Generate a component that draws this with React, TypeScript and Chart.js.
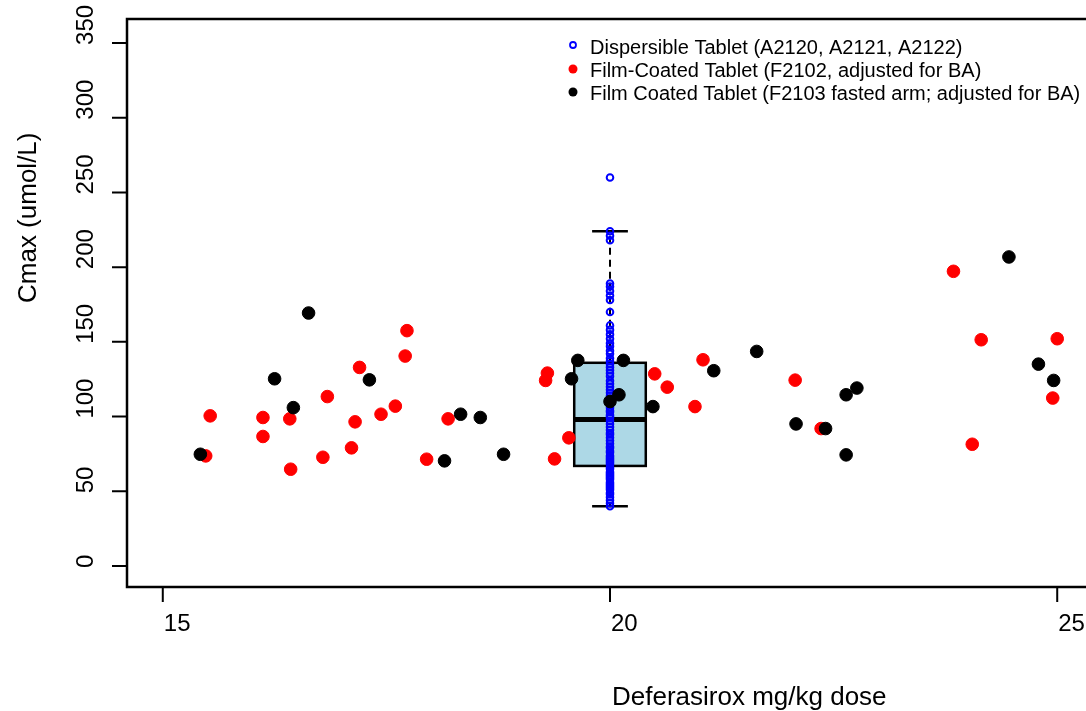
import React, { useEffect, useRef } from "react";
import { Chart, registerables } from "chart.js";

Chart.register(...registerables);

// ---------- data ----------
const seriesLabels = [
  "Dispersible Tablet (A2120, A2121, A2122)",
  "Film-Coated Tablet (F2102, adjusted for BA)",
  "Film Coated Tablet (F2103 fasted arm; adjusted for BA)",
];

const dispersibleDose = 20;
const dispersibleCmax = [
  260, 224, 221, 218, 189, 187, 184, 181, 178, 170, 161, 158, 155, 152, 149, 147, 144, 142, 139, 137,
  135, 133, 131, 129, 127, 124, 122, 120, 118, 116, 114, 112, 110, 108, 106, 104, 103, 101, 100, 99,
  97, 95, 93, 91, 89, 88, 86, 84, 82, 80, 79, 77, 76, 74, 73, 72, 71, 70, 69, 68,
  66, 65, 63, 62, 61, 60, 59, 58, 56, 55, 54, 53, 52, 51, 49, 48, 46, 44, 42, 40,
];

const f2102Dose = [
  15.53, 15.48, 16.12, 16.12, 16.42, 16.43, 16.84, 16.79, 17.2, 17.15, 17.11, 17.44, 17.6, 17.73, 17.71, 17.95,
  18.19, 19.3, 19.28, 19.54, 19.38, 20.5, 20.64, 20.95, 21.04, 22.07, 22.36, 23.84, 24.15, 24.05, 25.0, 24.95,
];
const f2102Cmax = [
  100.5, 73.7, 99.4, 86.7, 98.5, 64.8, 113.4, 72.8, 132.9, 96.5, 79.1, 101.6, 107, 157.5, 140.5, 71.5,
  98.5, 129.1, 124.2, 85.8, 71.7, 128.6, 119.7, 106.7, 138, 124.4, 92, 197.2, 151.4, 81.5, 152.1, 112.4,
];

const f2103Dose = [
  15.42, 16.63, 16.25, 16.46, 17.31, 18.33, 18.55, 18.15, 18.81, 19.64, 19.57, 20.15, 20.1, 20.0, 20.48,
  21.16, 21.64, 22.08, 22.41, 22.64, 22.76, 22.64, 24.46, 24.79, 24.96,
];
const f2103Cmax = [
  74.8, 169.3, 125.3, 106, 124.6, 101.6, 99.4, 70.4, 74.8, 137.6, 125.3, 137.6, 114.6, 110.1, 106.7,
  130.7, 143.6, 95.1, 92, 114.6, 119.1, 74.4, 206.8, 135.1, 124.2,
];

// lower whisker, Q1, median, Q3, upper whisker
const boxStats = [40, 67, 98, 136, 224];

const xTicks = [15, 20, 25];
const yTicks = [0, 50, 100, 150, 200, 250, 300, 350];
const xTitle = "Deferasirox mg/kg dose";
const yTitle = "Cmax (umol/L)";

// ---------- layout / style ----------
const FONT = "'Liberation Sans', Arial, sans-serif";
const CANVAS_W = 1110;
const CANVAS_H = 711;

const toPoints = (xs: number[], ys: number[]) => xs.map((x, i) => ({ x, y: ys[i] }));

const rPlotPlugin = {
  id: "rPlot",
  beforeDatasetsDraw(chart: any) {
    const ctx = chart.ctx as CanvasRenderingContext2D;
    const xs = chart.scales.x;
    const ys = chart.scales.y;
    const [lo, q1, med, q3, hi] = boxStats;
    const xl = xs.getPixelForValue(dispersibleDose - 0.4);
    const xr = xs.getPixelForValue(dispersibleDose + 0.4);
    const xc = xs.getPixelForValue(dispersibleDose);
    const sl = xs.getPixelForValue(dispersibleDose - 0.2);
    const sr = xs.getPixelForValue(dispersibleDose + 0.2);
    const yq1 = ys.getPixelForValue(q1);
    const yq3 = ys.getPixelForValue(q3);
    const ymed = ys.getPixelForValue(med);
    const ylo = ys.getPixelForValue(lo);
    const yhi = ys.getPixelForValue(hi);
    ctx.save();
    ctx.strokeStyle = "#000";
    ctx.lineWidth = 2;
    ctx.setLineDash([7, 5]);
    ctx.beginPath();
    ctx.moveTo(xc, yq3);
    ctx.lineTo(xc, yhi);
    ctx.moveTo(xc, yq1);
    ctx.lineTo(xc, ylo);
    ctx.stroke();
    ctx.setLineDash([]);
    ctx.lineWidth = 2.5;
    ctx.beginPath();
    ctx.moveTo(sl, yhi);
    ctx.lineTo(sr, yhi);
    ctx.moveTo(sl, ylo);
    ctx.lineTo(sr, ylo);
    ctx.stroke();
    ctx.fillStyle = "#ADD8E6";
    ctx.fillRect(xl, yq3, xr - xl, yq1 - yq3);
    ctx.lineWidth = 2.5;
    ctx.strokeRect(xl, yq3, xr - xl, yq1 - yq3);
    ctx.lineWidth = 5;
    ctx.beginPath();
    ctx.moveTo(xl, ymed);
    ctx.lineTo(xr, ymed);
    ctx.stroke();
    ctx.restore();
  },
  afterDraw(chart: any) {
    const ctx = chart.ctx as CanvasRenderingContext2D;
    const xs = chart.scales.x;
    const ys = chart.scales.y;
    const { left, top, right, bottom } = chart.chartArea;
    ctx.save();
    ctx.strokeStyle = "#000";
    ctx.fillStyle = "#000";
    ctx.lineWidth = 2.5;
    ctx.strokeRect(left, top, right - left, bottom - top);
    ctx.lineWidth = 2;
    ctx.beginPath();
    yTicks.forEach((v) => {
      const y = ys.getPixelForValue(v);
      ctx.moveTo(left - 15, y);
      ctx.lineTo(left, y);
    });
    xTicks.forEach((v) => {
      const x = xs.getPixelForValue(v);
      ctx.moveTo(x, bottom);
      ctx.lineTo(x, bottom + 15);
    });
    ctx.stroke();
    ctx.font = `24px ${FONT}`;
    ctx.textBaseline = "alphabetic";
    ctx.textAlign = "left";
    xTicks.forEach((v) => {
      const x = xs.getPixelForValue(v);
      ctx.fillText(String(v), x + 1, bottom + 44);
    });
    yTicks.forEach((v) => {
      const y = ys.getPixelForValue(v);
      ctx.save();
      ctx.translate(left - 34, y + 2);
      ctx.rotate(-Math.PI / 2);
      ctx.fillText(String(v), 0, 0);
      ctx.restore();
    });
    ctx.font = `26px ${FONT}`;
    ctx.fillText(xTitle, (left + right) / 2 + 2, bottom + 118);
    ctx.save();
    ctx.translate(36, (top + bottom) / 2);
    ctx.rotate(-Math.PI / 2);
    ctx.fillText(yTitle, 0, 0);
    ctx.restore();
    const legendX = 573;
    const legendY0 = 47;
    const legendDy = 23;
    const colors = ["#0000FF", "#FF0000", "#000000"];
    ctx.font = `20px ${FONT}`;
    ctx.textBaseline = "middle";
    seriesLabels.forEach((label, i) => {
      const y = legendY0 + i * legendDy;
      ctx.beginPath();
      if (i === 0) {
        ctx.strokeStyle = colors[i];
        ctx.lineWidth = 1.8;
        ctx.arc(legendX, y - 2, 3, 0, Math.PI * 2);
        ctx.stroke();
      } else {
        ctx.fillStyle = colors[i];
        ctx.arc(legendX, y - 1, 4.5, 0, Math.PI * 2);
        ctx.fill();
      }
      ctx.fillStyle = "#000";
      ctx.fillText(label, legendX + 17, y + 1);
    });
    ctx.restore();
  },
};

export default function App() {
  const canvasRef = useRef<HTMLCanvasElement | null>(null);

  useEffect(() => {
    const canvas = canvasRef.current;
    if (!canvas) return;
    const chart = new Chart(canvas, {
      type: "scatter",
      data: {
        datasets: [
          {
            label: seriesLabels[0],
            data: dispersibleCmax.map((y) => ({ x: dispersibleDose, y })),
            pointRadius: 3.3,
            pointBorderWidth: 2,
            pointBorderColor: "#0000FF",
            pointBackgroundColor: "rgba(0,0,0,0)",
            order: 2,
          },
          {
            label: seriesLabels[1],
            data: toPoints(f2102Dose, f2102Cmax),
            pointRadius: 6.3,
            pointBorderWidth: 1,
            pointBorderColor: "#FF0000",
            pointBackgroundColor: "#FF0000",
            order: 1,
          },
          {
            label: seriesLabels[2],
            data: toPoints(f2103Dose, f2103Cmax),
            pointRadius: 6.3,
            pointBorderWidth: 1,
            pointBorderColor: "#000000",
            pointBackgroundColor: "#000000",
            order: 0,
          },
        ],
      },
      options: {
        responsive: false,
        animation: false,
        events: [],
        layout: { padding: { left: 127, top: 19, right: CANVAS_W - 1093, bottom: CANVAS_H - 587 } },
        scales: {
          x: { type: "linear", min: 14.6, max: 25.4, display: false },
          y: { type: "linear", min: -14, max: 366, display: false },
        },
        plugins: { legend: { display: false }, tooltip: { enabled: false } },
      },
      plugins: [rPlotPlugin],
    });
    return () => chart.destroy();
  }, []);

  return (
    <div
      style={{
        position: "fixed",
        left: 0,
        top: 0,
        width: 1086,
        height: 711,
        overflow: "hidden",
        background: "#fff",
      }}
    >
      <canvas ref={canvasRef} width={CANVAS_W} height={CANVAS_H} style={{ display: "block" }} />
    </div>
  );
}
